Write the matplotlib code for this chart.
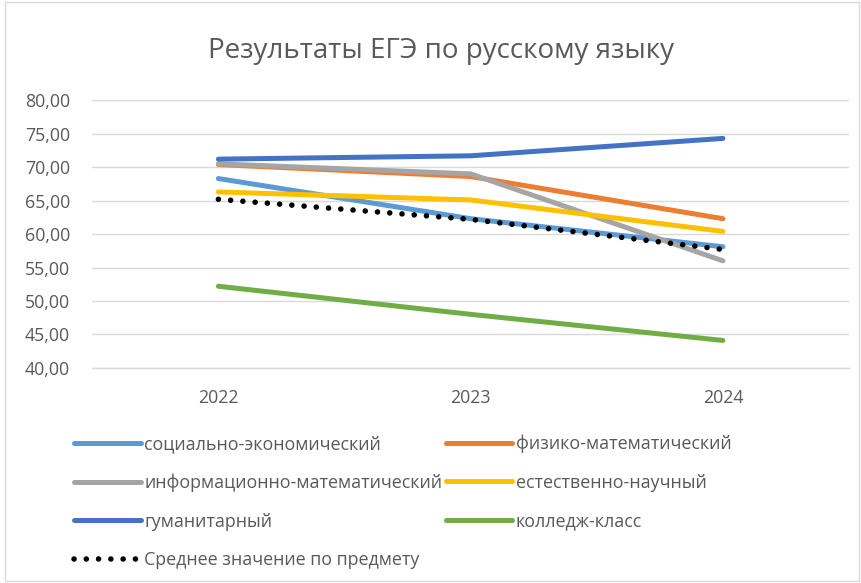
import matplotlib
matplotlib.use("Agg")
import matplotlib.pyplot as plt
from matplotlib.patches import Rectangle

years = ["2022", "2023", "2024"]
soc_econ = [68.3, 62.3, 58.1]
fiz_mat = [70.4, 68.6, 62.3]
inf_mat = [70.5, 69.0, 56.0]
est_nauch = [66.3, 65.1, 60.4]
guman = [71.2, 71.7, 74.3]
college = [52.2, 48.0, 44.1]
average = [65.2, 62.2, 57.7]

names = ["социально-экономический", "физико-математический",
         "информационно-математический", "естественно-научный",
         "гуманитарный", "колледж-класс"]
series = [soc_econ, fiz_mat, inf_mat, est_nauch, guman, college]
colors = ["#5B9BD5", "#ED7D31", "#A5A5A5", "#FFC000", "#4472C4", "#70AD47"]

plt.rcParams["font.family"] = ["Open Sans", "DejaVu Sans"]
text_color = "#595959"

fig = plt.figure(figsize=(8.62, 5.83), dpi=100)
ax = fig.add_axes([0.107, 0.369, 0.878, 0.459])

x = range(len(years))
handles = {}
for name, vals, c in zip(names, series, colors):
    (h,) = ax.plot(x, vals, color=c, lw=3.6, solid_capstyle="round", label=name)
    handles[name] = h
(h_avg,) = ax.plot(x, average, color="black", lw=4, ls=(0, (0.01, 2.2)),
                   dash_capstyle="round", label="Среднее значение по предмету")

ax.set_xlim(-0.5, 2.5)
ax.set_ylim(40, 80)
ax.set_yticks(range(40, 81, 5))
ax.set_yticklabels([f"{v},00" for v in range(40, 81, 5)])
ax.set_xticks(list(x))
ax.set_xticklabels(years)
ax.grid(axis="y", color="#D9D9D9", lw=1)
ax.axhline(40, color="#D9D9D9", lw=1, clip_on=False, zorder=0)
ax.set_axisbelow(True)
for s in ax.spines.values():
    s.set_visible(False)
ax.tick_params(length=0, labelsize=12.8, colors=text_color)
ax.tick_params(axis="y", pad=16)
ax.tick_params(axis="x", pad=15)

fig.text(0.512, 0.912, "Результаты ЕГЭ по русскому языку", ha="center",
         va="center", fontsize=20, color=text_color)

# legend is filled column by column
order = [handles[names[0]], handles[names[2]], handles[names[4]], h_avg,
         handles[names[1]], handles[names[3]], handles[names[5]]]
fig.legend(handles=order, labels=[h.get_label() for h in order], ncol=2,
           loc="upper left", bbox_to_anchor=(0.078, 0.267), frameon=False,
           fontsize=12.9, labelcolor=text_color, handlelength=3.7,
           handletextpad=0.2, columnspacing=0.2, labelspacing=1.15,
           borderaxespad=0)

fig.patches.append(Rectangle((0.006, 0.003), 0.99, 0.994, transform=fig.transFigure,
                             fill=False, ec="#D9D9D9", lw=1))

fig.savefig("out.png", dpi=100)
